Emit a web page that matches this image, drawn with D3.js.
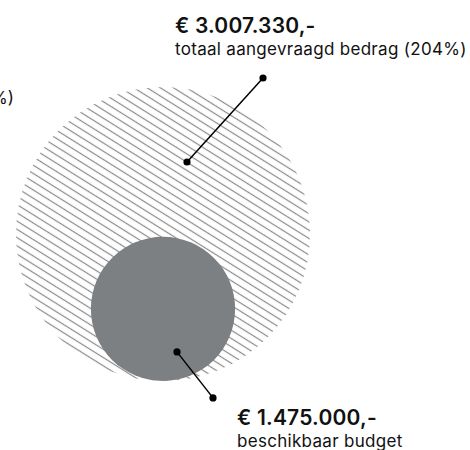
<!DOCTYPE html>
<html>
<head>
<meta charset="utf-8">
<script src="https://cdn.jsdelivr.net/npm/d3@7"></script>
<style>
  html, body { margin: 0; padding: 0; background: #fff; }
  svg { display: block; }
  text { font-family: Inter, "Open Sans", sans-serif; fill: #111; }
</style>
</head>
<body>
<svg id="chart" width="470" height="450"></svg>
<script>
const categories = ["totaal aangevraagd bedrag (204%)", "beschikbaar budget"];
const amountLabels = ["€ 3.007.330,-", "€ 1.475.000,-"];
const values = [3007330, 1475000];
const cutoffLabel = "%)";

const svg = d3.select("#chart");

const r = d3.scaleLinear().domain([0, d3.max(values)]).range([0, 147]);
const cx = 163, bottom = 381;

const defs = svg.append("defs");
const pat = defs.append("pattern")
  .attr("id", "hatch")
  .attr("patternUnits", "userSpaceOnUse")
  .attr("width", 20).attr("height", 7)
  .attr("patternTransform", "rotate(32)");
pat.append("line")
  .attr("x1", 0).attr("x2", 20).attr("y1", 3.5).attr("y2", 3.5)
  .attr("stroke", "#8a8a8a").attr("stroke-width", 1.2);

const circles = values.map((v, i) => ({
  v, i, r: r(v), cx: cx, cy: bottom - r(v)
}));

svg.selectAll("circle.bubble").data(circles).join("circle")
  .attr("class", "bubble")
  .attr("cx", d => d.cx).attr("cy", d => d.cy).attr("r", d => d.r)
  .attr("fill", d => d.i === 0 ? "url(#hatch)" : "#7c8083");

// annotations
const ann = [
  { from: [24, -72], to: [100, -156], tx: 175, ty: 33 },
  { from: [14, 43], to: [50, 89], tx: 237, ty: 425 }
];

ann.forEach((a, i) => {
  const c = circles[i];
  const x1 = c.cx + a.from[0], y1 = c.cy + a.from[1];
  const x2 = c.cx + a.to[0], y2 = c.cy + a.to[1];
  svg.append("line").attr("x1", x1).attr("y1", y1).attr("x2", x2).attr("y2", y2)
    .attr("stroke", "#000").attr("stroke-width", 1.5);
  svg.append("circle").attr("cx", x1).attr("cy", y1).attr("r", 3.6).attr("fill", "#000");
  svg.append("circle").attr("cx", x2).attr("cy", y2).attr("r", 3.6).attr("fill", "#000");
  svg.append("text").attr("x", a.tx).attr("y", a.ty)
    .attr("font-size", 21).attr("font-weight", 600).attr("letter-spacing", 0.2)
    .text(amountLabels[i]);
  svg.append("text").attr("x", a.tx).attr("y", a.ty + 22)
    .attr("font-size", 17).attr("font-weight", 400).attr("letter-spacing", 0.3)
    .text(categories[i]);
});

svg.append("text").attr("x", 14).attr("y", 104).attr("text-anchor", "end")
  .attr("font-size", 17).text(cutoffLabel);
</script>
</body>
</html>
